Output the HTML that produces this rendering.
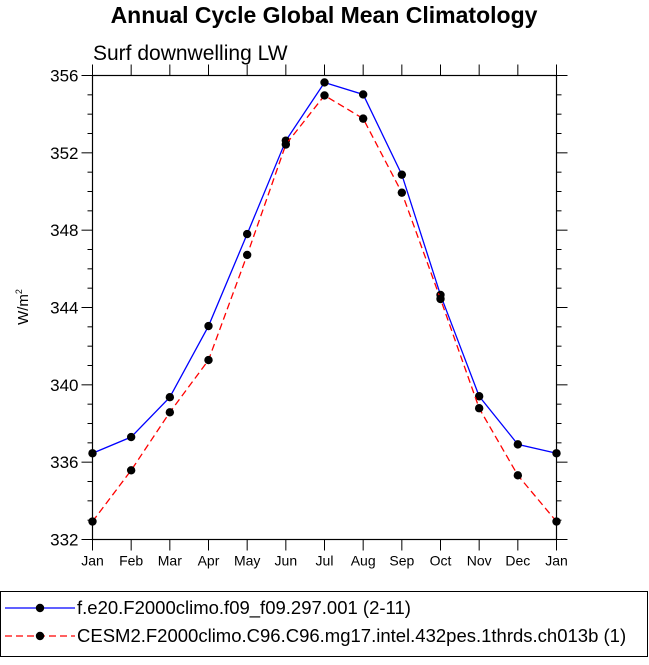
<!DOCTYPE html>
<html><head><meta charset="utf-8"><style>
body{margin:0;background:#fff;width:649px;height:660px;overflow:hidden}
svg text{font-family:"Liberation Sans",Arial,sans-serif}
</style></head><body>
<svg id="c" width="649" height="660"></svg>
<script>
const months=["Jan","Feb","Mar","Apr","May","Jun","Jul","Aug","Sep","Oct","Nov","Dec","Jan"];
const blueVals=[336.46,337.3,339.36,343.04,347.8,352.63,355.64,355.02,350.87,344.65,339.41,336.92,336.46];
const redVals=[332.93,335.58,338.58,341.28,346.72,352.43,354.97,353.77,349.94,344.44,338.79,335.32,332.93];
const yTicks=[332,336,340,344,348,352,356];
const NS="http://www.w3.org/2000/svg";
const svg=document.getElementById('c');
const L=92.5,R=556.5,T=75.5,B=539.5;
const xs=i=>L+i*(R-L)/12;
const ys=v=>B-(v-332)*(B-T)/24;
function mk(t,a,p){const e=document.createElementNS(NS,t);for(const k in a)e.setAttribute(k,a[k]);(p||svg).appendChild(e);return e;}
let t=mk('text',{x:324,y:23,'text-anchor':'middle','font-size':23,'font-weight':'bold'});t.textContent="Annual Cycle Global Mean Climatology";


t=mk('text',{x:93,y:60,'font-size':21});t.textContent="Surf downwelling LW";


t=mk('text',{transform:'translate(28,307) rotate(-90)','text-anchor':'middle','font-size':15});t.innerHTML='W/m<tspan font-size="9" dy="-6">2</tspan>';


let r=mk('rect',{x:L,y:T,width:R-L,height:B-T,fill:'none',stroke:'#000','stroke-width':1.2});


for(let v=332;v<=356;v++){const y=ys(v);const maj=(v-332)%4==0;const len=maj?11:5;
 mk('line',{x1:L-len,y1:y,x2:L,y2:y,stroke:'#000'});mk('line',{x1:R,y1:y,x2:R+len,y2:y,stroke:'#000'});}
yTicks.forEach(v=>{const e=mk('text',{x:L-14,y:ys(v)+6,'text-anchor':'end','font-size':17});e.textContent=v;

});
months.forEach((m,i)=>{const x=xs(i);mk('line',{x1:x,y1:B,x2:x,y2:B+11,stroke:'#000'});mk('line',{x1:x,y1:T-11,x2:x,y2:T,stroke:'#000'});
 const e=mk('text',{x:x,y:B+26,'text-anchor':'middle','font-size':14});e.textContent=m;
 
 });
function series(vals,col,dash,name){
 const p=mk('polyline',{points:vals.map((v,i)=>xs(i)+','+ys(v)).join(' '),fill:'none',stroke:col,'stroke-width':1.3,'stroke-dasharray':dash});
 
 
 vals.forEach((v,i)=>{const c=mk('circle',{cx:xs(i),cy:ys(v),r:4.2,fill:'#000'});
 
 });
}
series(blueVals,'#0000ff','none','series-f-e20');
series(redVals,'#ff0000','7,4','series-cesm2');
const lg=mk('rect',{x:0.5,y:591.5,width:647,height:65,fill:'none',stroke:'#000'});


[[608,'#0000ff','none','f.e20.F2000climo.f09_f09.297.001 (2-11)'],[636,'#ff0000','7,4','CESM2.F2000climo.C96.C96.mg17.intel.432pes.1thrds.ch013b (1)']].forEach(([y,c,d,s])=>{
 const g=mk('g',{});
 
 
 mk('line',{x1:5,y1:y,x2:75,y2:y,stroke:c,'stroke-width':1.3,'stroke-dasharray':d},g);
 mk('circle',{cx:40,cy:y,r:4.2,fill:'#000'},g);
 const e=mk('text',{x:77,y:y+6,'font-size':18.5},g);e.textContent=s;
});
</script>
</body></html>
